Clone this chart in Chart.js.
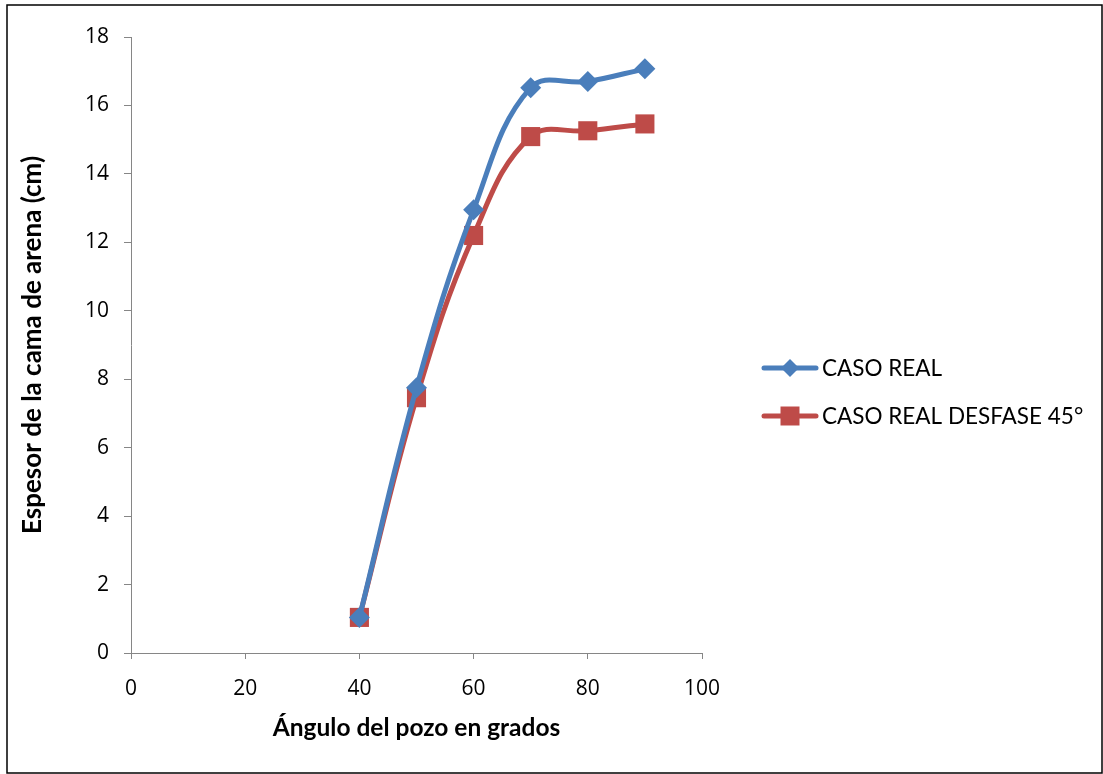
<!DOCTYPE html>
<html>
<head>
<meta charset="utf-8">
<script src="https://cdn.jsdelivr.net/npm/chart.js@4"></script>
<style>
  html, body { margin: 0; padding: 0; background: #fff; }
  canvas { display: block; }
</style>
</head>
<body>
<canvas id="c" width="1103" height="774"></canvas>
<script>
"use strict";
const angles = [40, 50, 60, 70, 80, 90];
const casoReal = [1.04, 7.75, 12.95, 16.52, 16.70, 17.07];
const casoDesfase = [1.04, 7.46, 12.20, 15.09, 15.26, 15.46];
const seriesNames = ["CASO REAL", "CASO REAL DESFASE 45°"];
const xTicks = [0, 20, 40, 60, 80, 100];
const yTicks = [0, 2, 4, 6, 8, 10, 12, 14, 16, 18];

const BLUE = "#4a7ebb", RED = "#be4b48", AXIS = "#868686";

// frame + legend drawn by hand, Excel style
const frameAndLegend = {
  id: "frameAndLegend",
  beforeDraw(chart) {
    const ctx = chart.ctx;
    ctx.save();
    ctx.fillStyle = "#fff";
    ctx.fillRect(0, 0, chart.width, chart.height);
    ctx.strokeStyle = "#000";
    ctx.lineWidth = 1.5;
    ctx.strokeRect(7, 5, 1095, 768);
    ctx.restore();
  },
  afterDraw(chart) {
    const ctx = chart.ctx;
    ctx.save();
    chart.data.datasets.forEach((ds, i) => {
      const y = 368 + i * 48;
      ctx.strokeStyle = ds.borderColor;
      ctx.lineWidth = 5;
      ctx.lineCap = "round";
      ctx.beginPath(); ctx.moveTo(764, y); ctx.lineTo(816, y); ctx.stroke();
      ctx.fillStyle = ds.backgroundColor;
      ctx.beginPath();
      if (ds.pointStyle === "rectRot") {
        ctx.moveTo(790, y - 9); ctx.lineTo(799, y); ctx.lineTo(790, y + 9); ctx.lineTo(781, y);
      } else {
        ctx.rect(780.5, y - 9.5, 19, 19);
      }
      ctx.fill();
      ctx.fillStyle = "#000";
      ctx.font = "22.5px Lato";
      ctx.textBaseline = "middle";
      ctx.fillText(ds.label, 822, y + 1);
    });
    ctx.restore();
  }
};

new Chart(document.getElementById("c"), {
  type: "line",
  data: {
    labels: angles,
    datasets: [
      { label: seriesNames[0], data: angles.map((a, i) => ({ x: a, y: casoReal[i] })),
        borderColor: BLUE, backgroundColor: BLUE, borderWidth: 5, tension: 0.4,
        pointStyle: "rectRot", pointRadius: 10.5, pointHoverRadius: 10.5, pointBorderWidth: 0 },
      { label: seriesNames[1], data: angles.map((a, i) => ({ x: a, y: casoDesfase[i] })),
        borderColor: RED, backgroundColor: RED, borderWidth: 5, tension: 0.4,
        pointStyle: "rect", pointRadius: 13.5, pointHoverRadius: 13.5, pointBorderWidth: 0 }
    ]
  },
  options: {
    responsive: false, animation: false,
    layout: { padding: { left: 0, top: 37, right: 401, bottom: 0 } },
    plugins: { legend: { display: false }, tooltip: { enabled: false } },
    scales: {
      x: {
        type: "linear", min: 0, max: 100,
        afterBuildTicks: (s) => { s.ticks = xTicks.map((v) => ({ value: v })); },
        afterFit: (s) => { s.height = 121; },
        grid: { drawOnChartArea: false, drawTicks: true, tickLength: 6, color: AXIS },
        border: { color: AXIS, width: 1 },
        ticks: { color: "#000", font: { family: "Open Sans", size: 21 }, padding: 17 },
        title: { display: true, text: "Ángulo del pozo en grados", color: "#000",
          font: { family: "Lato", size: 24.5, weight: "bold" }, padding: { bottom: 31 } }
      },
      y: {
        min: 0, max: 18,
        afterBuildTicks: (s) => { s.ticks = yTicks.map((v) => ({ value: v })); },
        afterFit: (s) => { s.width = 131; },
        grid: { drawOnChartArea: false, drawTicks: true, tickLength: 7, color: AXIS },
        border: { color: AXIS, width: 1 },
        ticks: { color: "#000", font: { family: "Open Sans", size: 21 }, padding: 15 },
        title: { display: true, text: "Espesor de la cama de arena (cm)", color: "#000",
          font: { family: "Lato", size: 26, weight: "bold" }, padding: { top: 17 } }
      }
    }
  },
  plugins: [frameAndLegend]
});
</script>
</body>
</html>
